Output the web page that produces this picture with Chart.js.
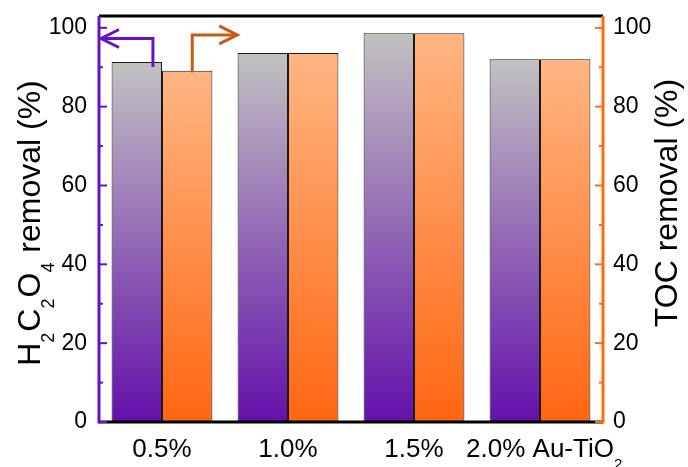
<!DOCTYPE html>
<html>
<head>
<meta charset="utf-8">
<script src="https://cdn.jsdelivr.net/npm/chart.js@4.4.1/dist/chart.umd.min.js"></script>
<style>
  html, body { margin: 0; padding: 0; background: #ffffff; }
  #wrap { width: 688px; height: 467px; }
</style>
</head>
<body>
<div id="wrap"><canvas id="chart" width="688" height="467"></canvas></div>
<script>
// Au loading of the Au-TiO2 catalysts
const categories = ['0.5%', '1.0%', '1.5%', '2.0% Au-TiO₂'];
// H2C2O4 removal (%) — left axis
const oxalicRemoval = [91.3, 93.6, 98.6, 92.0];
// TOC removal (%) — right axis
const tocRemoval = [89.1, 93.6, 98.6, 92.0];
// labelled y ticks (both axes)
const yTicks = [0, 20, 40, 60, 80, 100];
const leftTitle = 'H₂C₂O₄ removal (%)';
const rightTitle = 'TOC removal (%)';

const FONT = "'Liberation Sans', Arial, Helvetica, sans-serif";
const PURPLE = '#6a10c8';
const ORANGE = '#ff6a12';
const ARROW_ORANGE = '#c95a12';

// vertical gradient running from the bar base up to its top
function barFill(topColor, bottomColor) {
  return (c) => {
    const chart = c.chart;
    const area = chart.chartArea;
    if (!area || c.type !== 'data' || !c.parsed) return bottomColor;
    const scale = chart.scales[c.dataset.yAxisID];
    const yTop = scale.getPixelForValue(c.parsed.y);
    const g = chart.ctx.createLinearGradient(0, area.bottom, 0, yTop);
    g.addColorStop(0, bottomColor);
    g.addColorStop(1, topColor);
    return g;
  };
}

// draws text with unicode subscript digits rendered as real subscripts
const SUB = { '₀': '0', '₁': '1', '₂': '2', '₃': '3', '₄': '4', '₅': '5', '₆': '6', '₇': '7', '₈': '8', '₉': '9' };
function richRuns(text) {
  const runs = [];
  for (const ch of text) {
    const sub = ch in SUB;
    const c = sub ? SUB[ch] : ch;
    const last = runs[runs.length - 1];
    if (last && last.sub === sub) last.t += c; else runs.push({ t: c, sub });
  }
  return runs;
}
// align 'center' centres the whole string; 'centerMain' ignores a trailing subscript
function drawRich(ctx, text, x, y, size, align) {
  const runs = richRuns(text);
  const subSize = Math.round(size * 0.56);
  let total = 0;
  for (const r of runs) {
    ctx.font = `${r.sub ? subSize : size}px ${FONT}`;
    r.w = ctx.measureText(r.t).width + (r.sub ? 1 : 0);
    total += r.w;
  }
  const last = runs[runs.length - 1];
  const span = align === 'centerMain' && last.sub ? total - last.w : total;
  let cx = align === 'left' ? x : x - span / 2;
  ctx.textAlign = 'left';
  ctx.textBaseline = 'alphabetic';
  for (const r of runs) {
    ctx.font = `${r.sub ? subSize : size}px ${FONT}`;
    ctx.fillText(r.t, cx, r.sub ? y + size * 0.45 : y);
    cx += r.w;
  }
}

function seg(ctx, x1, y1, x2, y2) {
  ctx.beginPath();
  ctx.moveTo(x1, y1);
  ctx.lineTo(x2, y2);
  ctx.stroke();
}

// axis spine with inward major / minor ticks
function drawSpine(ctx, scale, x, dir, color, area) {
  ctx.strokeStyle = color;
  ctx.lineCap = 'butt';
  ctx.lineWidth = 3;
  seg(ctx, x, area.top, x, area.bottom + 1.5);
  ctx.lineWidth = 2;
  for (let i = 0; i < yTicks.length; i++) {
    const y = scale.getPixelForValue(yTicks[i]);
    seg(ctx, x, y, x + dir * 8, y);
    if (i < yTicks.length - 1) {
      const ym = scale.getPixelForValue((yTicks[i] + yTicks[i + 1]) / 2);
      seg(ctx, x, ym, x + dir * 4, ym);
    }
  }
}

function drawArrow(ctx, color, x0, yStart, yTurn, xTip) {
  const dir = xTip < x0 ? -1 : 1;
  ctx.strokeStyle = color;
  ctx.lineWidth = 3;
  ctx.lineJoin = 'miter';
  ctx.beginPath();
  ctx.moveTo(x0, yStart);
  ctx.lineTo(x0, yTurn);
  ctx.lineTo(xTip, yTurn);
  ctx.stroke();
  ctx.beginPath();
  ctx.moveTo(xTip - dir * 18, yTurn - 9);
  ctx.lineTo(xTip, yTurn);
  ctx.lineTo(xTip - dir * 18, yTurn + 9);
  ctx.stroke();
}

const decorations = {
  id: 'decorations',
  afterDatasetsDraw(chart) {
    const { ctx, chartArea: a, scales } = chart;
    ctx.save();

    // top and bottom frame lines
    ctx.strokeStyle = '#000';
    ctx.lineWidth = 3;
    seg(ctx, a.left, a.top, a.right, a.top);
    seg(ctx, a.left, a.bottom, a.right, a.bottom);

    // coloured y spines
    drawSpine(ctx, scales.y, a.left, 1, PURPLE, a);
    drawSpine(ctx, scales.y2, a.right, -1, ORANGE, a);

    // arrows pointing each series to its axis
    const g = chart.getDatasetMeta(0).data[0];
    const o = chart.getDatasetMeta(1).data[0];
    const gx = g.x + 0.32 * g.width;
    drawArrow(ctx, PURPLE, gx, g.y + 5, scales.y.getPixelForValue(97.3), a.left + 2);
    const ox = o.x + 0.1 * o.width;
    drawArrow(ctx, ARROW_ORANGE, ox, o.y + 1.5, scales.y2.getPixelForValue(98.2), ox + 45);

    // category labels
    ctx.fillStyle = '#000';
    categories.forEach((label, i) => {
      drawRich(ctx, label, scales.x.getPixelForValue(i), a.bottom + 35, 26, 'centerMain');
    });

    // rotated axis titles
    ctx.save();
    ctx.translate(40, 223);
    ctx.rotate(-Math.PI / 2);
    drawRich(ctx, leftTitle, 0, 0, 32, 'center');
    ctx.restore();

    ctx.save();
    ctx.translate(677, 203);
    ctx.rotate(-Math.PI / 2);
    drawRich(ctx, rightTitle, 0, 0, 32, 'center');
    ctx.restore();

    ctx.restore();
  }
};

const yTickOptions = (padding) => ({
  stepSize: 20,
  includeBounds: false,
  padding,
  color: '#000',
  font: { family: FONT, size: 23 },
  callback: (v) => (yTicks.includes(v) ? String(v) : '')
});

// fixed box sizes so the plot area sits where it should
const fixBox = (w) => (s) => {
  s.width = w;
  s.paddingTop = 0;
  s.paddingBottom = 0;
};

new Chart(document.getElementById('chart'), {
  type: 'bar',
  data: {
    labels: categories,
    datasets: [
      {
        label: 'H2C2O4 removal',
        data: oxalicRemoval,
        yAxisID: 'y',
        backgroundColor: barFill('#c1c1c1', '#6410aa'),
        borderColor: '#1a1a1a',
        borderWidth: 1,
        borderSkipped: false
      },
      {
        label: 'TOC removal',
        data: tocRemoval,
        yAxisID: 'y2',
        backgroundColor: barFill('#ffb683', '#ff6612'),
        borderColor: '#1a1a1a',
        borderWidth: 1,
        borderSkipped: false
      }
    ]
  },
  options: {
    responsive: false,
    animation: false,
    devicePixelRatio: 1,
    layout: { padding: { left: 0, right: 0, top: 16, bottom: 0 } },
    plugins: { legend: { display: false }, tooltip: { enabled: false } },
    datasets: { bar: { categoryPercentage: 0.8, barPercentage: 1.0 } },
    scales: {
      x: {
        offset: true,
        grid: { display: false, drawTicks: false },
        border: { display: false },
        ticks: { display: false },
        afterFit: (s) => { s.height = 45; s.paddingLeft = 0; s.paddingRight = 0; }
      },
      y: {
        position: 'left',
        min: 0,
        max: 103,
        grid: { display: false, drawTicks: false },
        border: { display: false },
        ticks: yTickOptions(12),
        afterFit: fixBox(99)
      },
      y2: {
        position: 'right',
        min: 0,
        max: 103,
        grid: { display: false, drawTicks: false },
        border: { display: false },
        ticks: yTickOptions(10),
        afterFit: fixBox(85)
      }
    }
  },
  plugins: [decorations]
});
</script>
</body>
</html>
